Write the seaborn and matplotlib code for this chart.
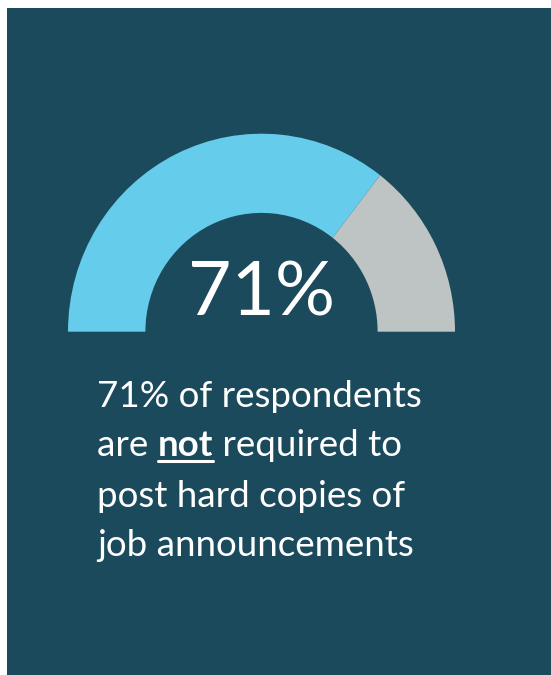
import matplotlib
matplotlib.use("Agg")
import matplotlib.pyplot as plt
import seaborn as sns
from matplotlib.patches import Rectangle

# ---- data ----
labels = ["Not required", "Required"]
shares = [71, 29]
headline = "71%"
line1 = "71% of respondents"
line2_parts = ["are ", "not", " required to"]
line3 = "post hard copies of"
line4 = "job announcements"

BG = "#1B4A5C"
BLUE = "#66CCEB"
GRAY = "#BEC3C3"

sns.set_theme(style="white")
plt.rcParams["font.family"] = ["Lato", "DejaVu Sans"]

W, H = 551, 675
fig = plt.figure(figsize=(W / 100, H / 100), dpi=100)
fig.patch.set_facecolor("white")
fig.patches.append(Rectangle((7 / W, 0), 1 - 7 / W, (H - 8) / H,
                             transform=fig.transFigure, facecolor=BG,
                             edgecolor="none", zorder=-5))

# gauge axes: centre at (261.5, 331.7) px, radii 193.5 (x) / 198 (y)
cx, cy, rx, ry = 261.5, 331.7, 193.5, 198.0
lim = 1.2
ax = fig.add_axes([(cx - lim * rx) / W, (H - cy - lim * ry) / H,
                   2 * lim * rx / W, 2 * lim * ry / H])
ax.set_zorder(1)
vals = shares + [sum(shares)]
ax.pie(vals, colors=[BLUE, GRAY, "none"], startangle=180, counterclock=False,
       radius=1.0, wedgeprops=dict(width=0.4, edgecolor="none", linewidth=0))
ax.set_aspect("auto")
ax.set_xlim(-lim, lim)
ax.set_ylim(-lim, lim)
ax.axis("off")
ax.patch.set_alpha(0)

fig.text(cx / W, 1 - 315 / H, headline, color="white", fontsize=54,
         ha="center", va="baseline", zorder=5)

fs = 26.5
baselines = [407, 456, 507, 556]
xl = 97
fig.text(xl / W, 1 - baselines[0] / H, line1, color="white", fontsize=fs,
         ha="left", va="baseline")
fig.text(xl / W, 1 - baselines[2] / H, line3, color="white", fontsize=fs,
         ha="left", va="baseline")
fig.text(xl / W, 1 - baselines[3] / H, line4, color="white", fontsize=fs,
         ha="left", va="baseline")

# line 2 with bold underlined "not"
fig.canvas.draw()
renderer = fig.canvas.get_renderer()
y2 = 1 - baselines[1] / H
texts = []
for i, part in enumerate(line2_parts):
    t = fig.text(0, y2, part, color="white", fontsize=fs, ha="left",
                 va="baseline", fontweight="bold" if i == 1 else "normal")
    texts.append(t)


def width_of(s, bold=False):
    tt = fig.text(0, 0, "|" + s + "|", fontsize=fs,
                  fontweight="bold" if bold else "normal")
    bar = fig.text(0, 0, "||", fontsize=fs,
                   fontweight="bold" if bold else "normal")
    w = tt.get_window_extent(renderer).width - bar.get_window_extent(renderer).width
    tt.remove()
    bar.remove()
    return w


widths = [width_of(p, i == 1) for i, p in enumerate(line2_parts)]
x = xl
for i, (t, w) in enumerate(zip(texts, widths)):
    t.set_x(x / W)
    if i == 1:
        fig.add_artist(plt.Line2D([x / W, (x + w) / W],
                                  [1 - (baselines[1] + 5) / H] * 2,
                                  color="white", lw=2.2,
                                  transform=fig.transFigure))
    x += w

fig.savefig("out.png", dpi=100, facecolor=fig.get_facecolor())
